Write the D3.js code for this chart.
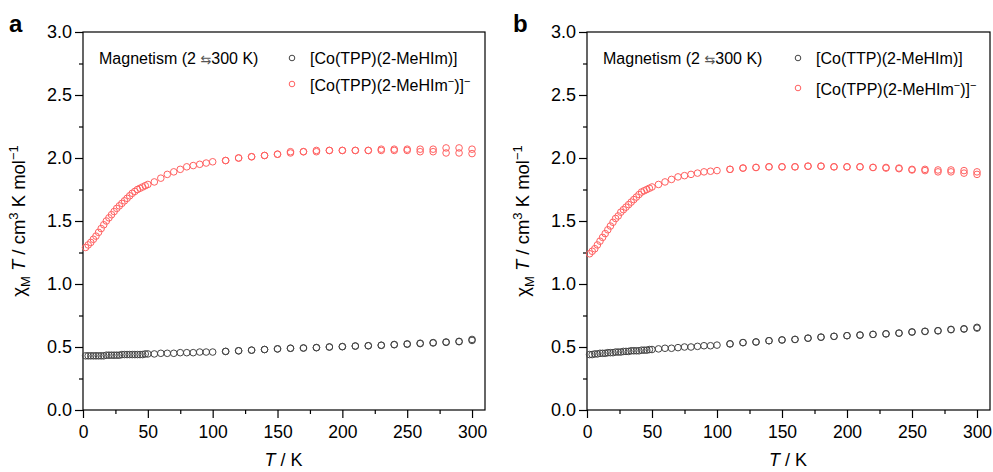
<!DOCTYPE html>
<html>
<head>
<meta charset="utf-8">
<script src="https://cdn.jsdelivr.net/npm/d3@7"></script>
<style>
  body { margin: 0; background: #fff; }
  svg { display: block; font-family: "Liberation Sans", Arial, Helvetica, sans-serif; }
</style>
</head>
<body>
<svg id="chart" width="993" height="472"></svg>
<script>
// temperatures of the 2 -> 300 K sweep
const temps = [2, 4, 6, 8, 10, 12, 14, 16, 18, 20, 22, 24, 26, 28, 30, 32, 34, 36, 38, 40, 42, 44, 46, 48, 50,
  55, 60, 65, 70, 75, 80, 85, 90, 95, 100,
  110, 120, 130, 140, 150, 160, 170, 180, 190, 200, 210, 220, 230, 240, 250, 260, 270, 280, 290, 300];
// return sweep (300 -> 2 K), only the part where it separates visibly
const coolTemps = [110, 120, 130, 140, 150, 160, 170, 180, 190, 200, 210, 220, 230, 240, 250, 260, 270, 280, 290, 300];

// panel a
const aNeutral = [0.43, 0.43, 0.43, 0.43, 0.43, 0.43, 0.43, 0.43, 0.435, 0.435, 0.435, 0.435, 0.435, 0.435, 0.44, 0.44, 0.44, 0.44, 0.44, 0.44, 0.44, 0.44, 0.44, 0.445, 0.445,
  0.445, 0.45, 0.45, 0.45, 0.455, 0.455, 0.455, 0.46, 0.46, 0.46,
  0.465, 0.47, 0.475, 0.48, 0.485, 0.49, 0.492, 0.495, 0.50, 0.503, 0.508, 0.51, 0.514, 0.52, 0.525, 0.53, 0.535, 0.54, 0.545, 0.56];
const aNeutralCool = [0.465, 0.47, 0.475, 0.48, 0.485, 0.49, 0.492, 0.495, 0.50, 0.503, 0.507, 0.51, 0.513, 0.518, 0.522, 0.527, 0.532, 0.537, 0.542, 0.552];
const aAnion = [1.29, 1.31, 1.33, 1.355, 1.38, 1.41, 1.44, 1.47, 1.50, 1.525, 1.55, 1.575, 1.60, 1.62, 1.64, 1.66, 1.68, 1.70, 1.72, 1.735, 1.75, 1.76, 1.77, 1.78, 1.79,
  1.81, 1.84, 1.87, 1.89, 1.91, 1.93, 1.94, 1.95, 1.96, 1.97,
  1.98, 2.00, 2.01, 2.02, 2.03, 2.05, 2.05, 2.06, 2.06, 2.06, 2.06, 2.06, 2.07, 2.07, 2.07, 2.07, 2.07, 2.08, 2.08, 2.07];
const aAnionCool = [1.98, 2.00, 2.01, 2.02, 2.03, 2.04, 2.05, 2.05, 2.06, 2.06, 2.06, 2.06, 2.06, 2.06, 2.06, 2.05, 2.05, 2.04, 2.04, 2.035];

// panel b
const bNeutral = [0.44, 0.44, 0.445, 0.445, 0.45, 0.45, 0.45, 0.455, 0.455, 0.455, 0.46, 0.46, 0.46, 0.465, 0.465, 0.465, 0.47, 0.47, 0.47, 0.47, 0.475, 0.475, 0.475, 0.48, 0.48,
  0.485, 0.49, 0.49, 0.495, 0.50, 0.50, 0.505, 0.51, 0.51, 0.515,
  0.525, 0.535, 0.54, 0.55, 0.556, 0.56, 0.57, 0.578, 0.585, 0.59, 0.595, 0.60, 0.605, 0.61, 0.62, 0.625, 0.63, 0.64, 0.645, 0.656];
const bNeutralCool = [0.525, 0.535, 0.54, 0.55, 0.556, 0.56, 0.57, 0.578, 0.584, 0.59, 0.594, 0.60, 0.604, 0.61, 0.618, 0.623, 0.628, 0.637, 0.642, 0.65];
const bAnion = [1.24, 1.26, 1.28, 1.31, 1.34, 1.37, 1.40, 1.43, 1.46, 1.49, 1.52, 1.54, 1.57, 1.59, 1.61, 1.63, 1.65, 1.67, 1.69, 1.71, 1.73, 1.74, 1.75, 1.76, 1.77,
  1.79, 1.81, 1.83, 1.85, 1.86, 1.87, 1.88, 1.89, 1.895, 1.90,
  1.91, 1.92, 1.925, 1.93, 1.93, 1.93, 1.935, 1.935, 1.93, 1.93, 1.93, 1.925, 1.925, 1.92, 1.91, 1.91, 1.905, 1.905, 1.90, 1.89];
const bAnionCool = [1.91, 1.92, 1.925, 1.93, 1.93, 1.93, 1.935, 1.935, 1.93, 1.93, 1.93, 1.925, 1.92, 1.915, 1.905, 1.90, 1.89, 1.89, 1.88, 1.87];

const xTicks = [0, 50, 100, 150, 200, 250, 300];
const yTicks = [0.0, 0.5, 1.0, 1.5, 2.0, 2.5, 3.0];

const panels = [
  { label: "a", left: 83, right: 485, neutralName: "TPP", neutral: aNeutral, neutralCool: aNeutralCool, anion: aAnion, anionCool: aAnionCool, leg2dy: 27 },
  { label: "b", left: 587, right: 990, neutralName: "TTP", neutral: bNeutral, neutralCool: bNeutralCool, anion: bAnion, anionCool: bAnionCool, leg2dy: 31 }
];

const plotTop = 32, plotBottom = 410;
const redCol = "#ff6060", blackCol = "#444";
const svg = d3.select("#chart");

panels.forEach(p => {
  const x = d3.scaleLinear().domain([0, 310]).range([p.left, p.right]);
  const y = d3.scaleLinear().domain([0, 3]).range([plotBottom, plotTop]);
  const g = svg.append("g");

  // minor ticks
  g.append("g")
    .attr("transform", `translate(0,${plotBottom})`)
    .call(d3.axisBottom(x).tickValues(d3.range(25, 310, 50)).tickSize(4).tickFormat(""))
    .call(s => s.select(".domain").remove());
  g.append("g")
    .attr("transform", `translate(${p.left},0)`)
    .call(d3.axisLeft(y).tickValues(d3.range(0.25, 3, 0.5)).tickSize(4).tickFormat(""))
    .call(s => s.select(".domain").remove());

  // major ticks
  g.append("g")
    .attr("transform", `translate(0,${plotBottom})`)
    .call(d3.axisBottom(x).tickValues(xTicks).tickSize(8).tickPadding(8).tickFormat(d3.format("d")))
    .call(s => s.select(".domain").remove())
    .call(s => s.selectAll("text").attr("font-size", 17.5).attr("fill", "#000").attr("font-family", "Liberation Sans, Arial, sans-serif"));
  g.append("g")
    .attr("transform", `translate(${p.left},0)`)
    .call(d3.axisLeft(y).tickValues(yTicks).tickSize(8).tickPadding(3).tickFormat(d3.format(".1f")))
    .call(s => s.select(".domain").remove())
    .call(s => s.selectAll("text").attr("font-size", 18).attr("fill", "#000").attr("font-family", "Liberation Sans, Arial, sans-serif"));
  g.selectAll(".tick line").attr("stroke", "#000").attr("stroke-width", 1.2);

  // frame
  g.append("rect")
    .attr("x", p.left).attr("y", plotTop)
    .attr("width", p.right - p.left).attr("height", plotBottom - plotTop)
    .attr("fill", "none").attr("stroke", "#000").attr("stroke-width", 1.2);

  // data
  const pts = (ts, vs) => ts.map((t, i) => [t, vs[i]]);
  const series = [
    { d: pts(coolTemps, p.neutralCool), c: blackCol },
    { d: pts(temps, p.neutral), c: blackCol },
    { d: pts(coolTemps, p.anionCool), c: redCol },
    { d: pts(temps, p.anion), c: redCol }
  ];
  series.forEach(s => {
    g.append("g").selectAll("circle")
      .data(s.d)
      .enter()
      .append("circle")
      .attr("cx", d => x(d[0]))
      .attr("cy", d => y(d[1]))
      .attr("r", 3.3)
      .attr("fill", "none")
      .attr("stroke", s.c)
      .attr("stroke-width", 1);
  });

  // panel letter
  svg.append("text")
    .attr("x", p.left - 74).attr("y", 32)
    .attr("font-size", 24).attr("font-weight", "bold")
    .text(p.label);

  // legend
  const lg = g.append("g").attr("font-size", 16);
  const mt = lg.append("text").attr("x", p.left + 16).attr("y", 64);
  mt.append("tspan").text("Magnetism (2 ");
  mt.append("tspan").attr("fill", "#555").attr("font-family", "DejaVu Sans").attr("font-size", 13).text("\u21C6");
  mt.append("tspan").text("300 K)");

  const lx = p.left + 209 + (p.label === "b" ? 2 : 0);
  lg.append("circle").attr("cx", lx).attr("cy", 58).attr("r", 2.8)
    .attr("fill", "none").attr("stroke", blackCol);
  lg.append("circle").attr("cx", lx).attr("cy", 57 + p.leg2dy).attr("r", 2.8)
    .attr("fill", "none").attr("stroke", redCol);
  lg.append("text").attr("x", lx + 18).attr("y", 64)
    .text(`[Co(${p.neutralName})(2-MeHIm)]`);
  const t2 = lg.append("text").attr("x", lx + 18).attr("y", 64 + p.leg2dy);
  t2.append("tspan").text("[Co(TPP)(2-MeHIm");
  t2.append("tspan").attr("font-size", 11).attr("dy", -6).text("\u2212");
  t2.append("tspan").attr("dy", 6).text(")]");
  t2.append("tspan").attr("font-size", 11).attr("dy", -6).text("\u2212");

  // axis titles
  const xt = g.append("text")
    .attr("x", x(150) + 6).attr("y", 466)
    .attr("text-anchor", "middle").attr("font-size", 18);
  xt.append("tspan").attr("font-style", "italic").text("T");
  xt.append("tspan").text(" / K");

  const yt = g.append("text")
    .attr("transform", `translate(${p.left - 58},${(plotTop + plotBottom) / 2}) rotate(-90)`)
    .attr("text-anchor", "middle").attr("font-size", 18.5);
  yt.append("tspan").text("\u03C7");
  yt.append("tspan").attr("font-size", 13).attr("dy", 5).text("M");
  yt.append("tspan").attr("dy", -5).text(" ");
  yt.append("tspan").attr("font-style", "italic").text("T");
  yt.append("tspan").text(" / cm");
  yt.append("tspan").attr("font-size", 13).attr("dy", -7).text("3");
  yt.append("tspan").attr("dy", 7).text(" K mol");
  yt.append("tspan").attr("font-size", 13).attr("dy", -7).text("\u22121");
});
</script>
</body>
</html>
